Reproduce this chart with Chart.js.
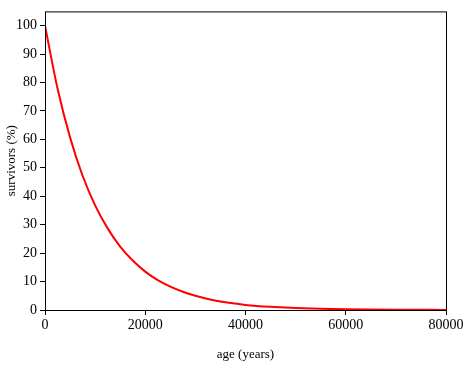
<!DOCTYPE html>
<html>
<head>
<meta charset="utf-8">
<script src="https://cdn.jsdelivr.net/npm/chart.js@4/dist/chart.umd.min.js"></script>
<style>
    html, body { margin: 0; padding: 0; background: #fff; }
    #wrap { width: 470px; height: 366px; position: relative; }
</style>
</head>
<body>
<div id="wrap"><canvas id="survivalChart"></canvas></div>
<script>
// Values
const ages = [0, 2500, 5000, 7500, 10000, 12500, 15000, 17500, 20000, 22500, 25000,
    27500, 30000, 32500, 35000, 37500, 40000, 45000, 50000, 55000, 60000, 70000, 80000];
const survivors = [100, 77.9, 60.7, 47.2, 36.8, 28.7, 22.3, 17.4, 13.5, 10.5, 8.2,
    6.4, 5.0, 3.9, 3.0, 2.4, 1.8, 1.1, 0.7, 0.4, 0.25, 0.1, 0.03];
const xTicks = [0, 20000, 40000, 60000, 80000];
const yTicks = [0, 10, 20, 30, 40, 50, 60, 70, 80, 90, 100];

const FONT = '"Liberation Serif", "DejaVu Serif", serif';

// Draw the box around the plot area
const frame = {
    id: 'frame',
    afterDatasetsDraw(chart) {
        const { ctx, chartArea: a } = chart;
        ctx.save();
        ctx.strokeStyle = '#000';
        ctx.lineWidth = 1;
        ctx.strokeRect(a.left + 0.5, a.top + 0.5, a.right - a.left, a.bottom - a.top);
        ctx.restore();
    }
};

document.addEventListener('DOMContentLoaded', () => {
    const ctx = document.getElementById('survivalChart').getContext('2d');

    new Chart(ctx, {
        type: 'line',
        data: {
            datasets: [{
                data: ages.map((a, i) => ({ x: a, y: survivors[i] })),
                borderColor: '#ff0000',
                borderWidth: 2,
                pointRadius: 0,
                tension: 0.4,
                cubicInterpolationMode: 'monotone',
                fill: false
            }]
        },
        options: {
            responsive: true,
            maintainAspectRatio: false,
            animation: false,
            layout: { padding: { top: 9, right: 24, left: 4, bottom: 4 } },
            plugins: {
                legend: { display: false },
                tooltip: { enabled: false }
            },
            scales: {
                x: {
                    type: 'linear',
                    min: 0,
                    max: 80000,
                    afterBuildTicks: s => { s.ticks = xTicks.map(v => ({ value: v })); },
                    border: { display: false },
                    grid: { drawOnChartArea: false, tickLength: 5, tickColor: '#000', lineWidth: 1 },
                    ticks: {
                        color: '#000',
                        padding: 2,
                        font: { family: FONT, size: 14 },
                        callback: v => String(v)
                    },
                    title: {
                        display: true,
                        text: 'age (years)',
                        color: '#000',
                        font: { family: FONT, size: 13 },
                        padding: { top: 7, bottom: 0 }
                    },
                    afterFit: s => { s.height = 52; }
                },
                y: {
                    type: 'linear',
                    min: 0,
                    max: 105,
                    afterBuildTicks: s => { s.ticks = yTicks.map(v => ({ value: v })); },
                    border: { display: false },
                    grid: { drawOnChartArea: false, tickLength: 5, tickColor: '#000', lineWidth: 1 },
                    ticks: {
                        color: '#000',
                        padding: 3,
                        font: { family: FONT, size: 14 }
                    },
                    title: {
                        display: true,
                        text: 'survivors (%)',
                        color: '#000',
                        font: { family: FONT, size: 13 },
                        padding: { top: 0, bottom: 1 }
                    },
                    afterFit: s => { s.width = 41; }
                }
            }
        },
        plugins: [frame]
    });
});
</script>
</body>
</html>
